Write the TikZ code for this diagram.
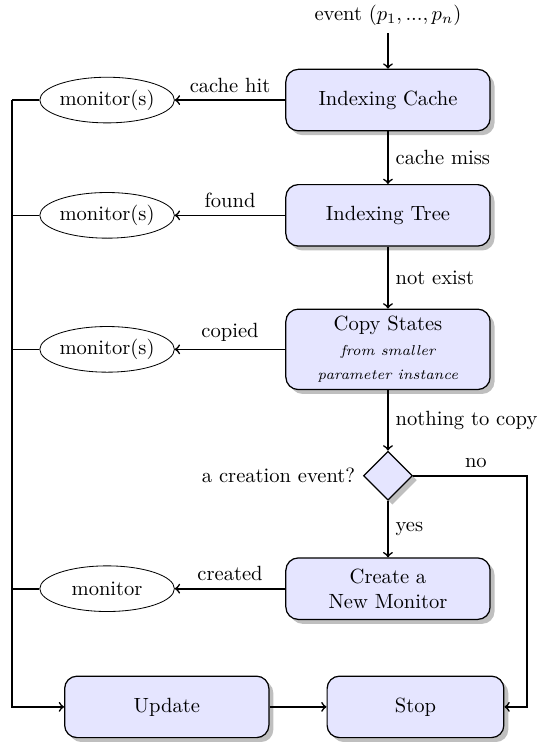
\documentclass[tikz,border=0pt]{standalone}
\usepackage{amsmath}
\usetikzlibrary{shapes.geometric,shadows}

\begin{document}
\begin{tikzpicture}[thick,>=to,
    block/.style={draw,semithick,fill=blue!10,rounded corners=6pt,drop shadow,minimum width=3.49cm,minimum height=1.05cm,align=center},
    decision/.style={draw,semithick,fill=blue!10,diamond,drop shadow,minimum width=0.84cm,minimum height=0.84cm,inner sep=0pt},
    mon/.style={draw,thin,ellipse,minimum width=2.3cm,minimum height=0.78cm,inner sep=0pt}]
  \useasboundingbox (0,0) rectangle (9.16,-12.68);
  \node (event) at (6.63,-0.26){event $(p_1,...,p_n)$};
  \node[block] (cache) at (6.63,-1.71){Indexing Cache};
  \node[block] (tree) at (6.63,-3.68){Indexing Tree};
  \node[block] (copy) at (6.63,-5.97){Copy States\\{\scriptsize\itshape from smaller}\\{\scriptsize\itshape parameter instance}};
  \node[decision] (dec) at (6.63,-8.13){};
  \node[left] (ask) at (dec.west){a creation event?};
  \node[block] (create) at (6.63,-10.06){Create a\\New Monitor};
  \node[block] (update) at (2.85,-12.08){Update};
  \node[block,minimum width=3.02cm] (stop) at (7.10,-12.08){Stop};
  \node[mon] (m1) at (1.83,-1.71){monitor(s)};
  \node[mon] (m2) at (1.83,-3.68){monitor(s)};
  \node[mon] (m3) at (1.83,-5.97){monitor(s)};
  \node[mon] (m4) at (1.83,-10.06){monitor};
  \coordinate (lft) at (0.21,-1.71);
  \coordinate (rgt) at (9.01,-8.13);
  % main path
  \draw[->] (event) -- (cache);
  \draw[->] (cache) -- node[right]{cache miss} (tree);
  \draw[->] (tree) -- node[right]{not exist} (copy);
  \draw[->] (copy) -- node[right]{nothing to copy} (dec);
  \draw[->] (dec) -- node[right]{yes} (create);
  \draw[->] (dec) -- node[above,pos=0.55]{no} (rgt) |- (stop);
  % found monitors
  \draw[->] (cache) -- node[above]{cache hit} (m1);
  \draw[->] (tree) -- node[above]{found} (m2);
  \draw[->] (copy) -- node[above]{copied} (m3);
  \draw[->] (create) -- node[above]{created} (m4);
  \draw (m1) -- (lft);
  \draw (m2) -- (m2 -| lft);
  \draw (m3) -- (m3 -| lft);
  \draw (m4) -- (m4 -| lft);
  \draw[->] (lft) |- (update);
  \draw[->] (update) -- (stop);
\end{tikzpicture}
\end{document}
